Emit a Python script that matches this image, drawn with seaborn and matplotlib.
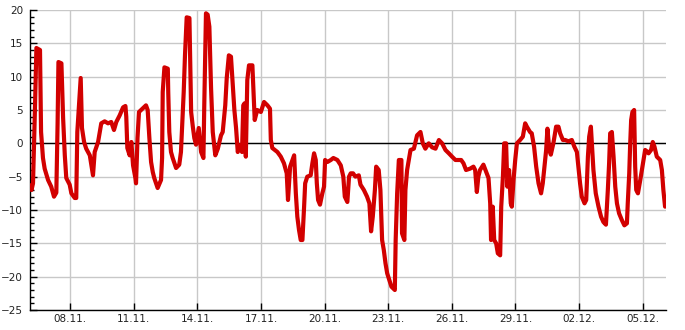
import matplotlib
matplotlib.use("Agg")
import matplotlib.pyplot as plt
import matplotlib.dates as mdates
from matplotlib.ticker import MultipleLocator
import numpy as np
import pandas as pd
import seaborn as sns

# ---- data ----
start_date = "2012-11-06"
# time in days since start_date 00:00
days = [
    0.10, 0.17, 0.24, 0.33, 0.40, 0.57, 0.62, 0.71, 0.79, 0.95, 1.10, 1.23, 1.34, 1.40, 1.44,
    1.58, 1.66, 1.74, 1.81, 1.97, 2.05, 2.21, 2.28, 2.33, 2.49, 2.55, 2.65, 2.75, 2.92, 3.07,
    3.15, 3.31, 3.39, 3.46, 3.62, 3.78, 3.93, 4.06, 4.17, 4.33, 4.49, 4.60, 4.64, 4.69, 4.80,
    4.88, 4.96, 5.07, 5.10, 5.17, 5.24, 5.57, 5.65, 5.73, 5.81, 5.89, 5.96, 6.12, 6.28, 6.33,
    6.36, 6.44, 6.60, 6.62, 6.67, 6.75, 6.83, 6.99, 7.14, 7.22, 7.35, 7.41, 7.49, 7.62, 7.65,
    7.70, 7.78, 7.85, 7.93, 8.06, 8.17, 8.28, 8.32, 8.40, 8.48, 8.56, 8.64, 8.72, 8.84, 8.96,
    9.11, 9.19, 9.31, 9.38, 9.48, 9.58, 9.66, 9.74, 9.82, 9.90, 10.01, 10.10, 10.16, 10.22, 10.28,
    10.35, 10.43, 10.59, 10.64, 10.70, 10.82, 10.99, 11.14, 11.30, 11.42, 11.46, 11.53, 11.77, 11.93, 12.08,
    12.21, 12.27, 12.37, 12.48, 12.56, 12.64, 12.71, 12.79, 12.87, 12.95, 13.03, 13.08, 13.18, 13.34, 13.42,
    13.50, 13.58, 13.63, 13.69, 13.78, 13.89, 13.97, 14.02, 14.13, 14.29, 14.41, 14.60, 14.76, 14.88, 14.95,
    15.07, 15.15, 15.23, 15.34, 15.45, 15.61, 15.69, 15.85, 16.00, 16.11, 16.19, 16.27, 16.37, 16.43, 16.55,
    16.63, 16.71, 16.79, 16.87, 16.95, 17.05, 17.15, 17.31, 17.35, 17.42, 17.50, 17.62, 17.65, 17.76, 17.81,
    17.89, 17.97, 18.05, 18.21, 18.36, 18.52, 18.63, 18.75, 18.91, 19.07, 19.23, 19.39, 19.54, 19.70, 19.86,
    20.01, 20.17, 20.33, 20.44, 20.55, 20.67, 20.86, 21.02, 21.10, 21.18, 21.25, 21.33, 21.49, 21.62, 21.73,
    21.81, 21.85, 21.93, 22.00, 22.09, 22.17, 22.28, 22.33, 22.41, 22.47, 22.56, 22.62, 22.70, 22.78, 22.83,
    22.91, 22.99, 23.07, 23.22, 23.35, 23.46, 23.54, 23.69, 23.77, 23.88, 23.98, 24.09, 24.21, 24.29, 24.37,
    24.45, 24.51, 24.60, 24.67, 24.79, 24.92, 25.03, 25.11, 25.24, 25.35, 25.50, 25.66, 25.78, 25.90, 25.97,
    26.05, 26.13, 26.26, 26.34, 26.42, 26.48, 26.56, 26.61, 26.68, 26.79, 26.92, 27.04, 27.15, 27.27, 27.36,
    27.42, 27.47, 27.55, 27.63, 27.71, 27.79, 27.89, 28.02, 28.14, 28.26, 28.30, 28.37, 28.41, 28.46, 28.52,
    28.60, 28.65, 28.70, 28.78, 28.89, 28.99, 29.12, 29.20, 29.28, 29.40, 29.48, 29.56, 29.67, 29.83, 29.91,
    29.98, 30.06,
]
temps = [
    -6.3, -7.0, -6.0, 5.0, 14.3, 14.0, 1.7, -2.2, -3.8, -5.5, -6.5, -8.0, -7.4, 3.0, 12.2,
    12.0, 3.8, -1.8, -5.2, -6.2, -7.5, -8.2, -8.2, 1.7, 9.8, 2.3, 0.2, -0.8, -1.8, -4.8,
    -1.3, 0.2, 1.7, 3.0, 3.3, 3.0, 3.2, 2.0, 3.2, 4.2, 5.4, 5.6, 4.0, -0.7, -1.8,
    0.2, -3.3, -5.2, -6.0, 0.8, 4.7, 5.7, 5.0, 0.8, -2.8, -4.3, -5.2, -6.7, -5.5, -2.2,
    7.7, 11.4, 11.2, 7.7, 1.7, -1.3, -2.2, -3.7, -3.2, -1.3, 7.7, 13.2, 18.9, 18.8, 13.2,
    4.7, 2.5, 0.8, -0.2, 2.3, -1.3, -2.2, 5.7, 19.5, 19.3, 17.5, 8.3, 1.7, -1.8, -0.8,
    1.2, 1.7, 5.7, 9.8, 13.2, 13.0, 9.0, 5.0, 2.3, -1.3, -0.3, -1.3, 5.7, 6.0, -2.0,
    9.5, 11.7, 11.7, 8.0, 3.5, 5.0, 4.7, 6.2, 5.7, 5.2, 0.5, -0.7, -1.3, -2.0, -3.0,
    -4.5, -8.5, -3.5, -2.5, -1.8, -7.5, -11.0, -13.0, -14.5, -14.5, -9.5, -6.0, -5.0, -4.8, -3.0,
    -1.5, -2.5, -6.0, -8.5, -9.2, -7.5, -6.5, -2.5, -2.8, -2.5, -2.2, -2.5, -3.3, -5.0, -8.0,
    -8.8, -5.0, -4.5, -4.5, -5.0, -4.8, -6.2, -7.0, -8.0, -9.0, -13.2, -11.0, -7.0, -3.5, -4.0,
    -7.0, -14.5, -16.0, -18.0, -19.5, -20.5, -21.5, -22.0, -14.5, -7.5, -2.5, -2.5, -13.5, -14.5, -7.0,
    -4.0, -2.5, -1.0, -0.8, 1.2, 1.7, 0.0, -0.8, 0.0, -0.6, -0.8, 0.5, 0.0, -1.0, -1.5,
    -2.0, -2.5, -2.5, -2.5, -3.0, -4.0, -3.8, -3.5, -4.0, -7.3, -5.0, -4.0, -3.2, -4.3, -5.2,
    -9.0, -14.5, -9.5, -14.5, -15.0, -16.5, -16.8, -9.5, -5.0, 0.0, 0.0, -6.5, -4.0, -9.0, -9.5,
    -5.5, -2.5, 0.0, 0.5, 1.0, 3.0, 2.5, 1.7, 1.5, -0.5, -3.5, -6.0, -7.5, -6.0, -3.5,
    -1.0, 2.2, -1.0, -1.7, 0.0, 2.5, 2.5, 1.5, 0.5, 0.5, 0.3, 0.5, -0.5, -1.3, -3.5,
    -6.0, -8.0, -9.0, -8.5, -2.0, 1.0, 2.5, -0.3, -4.0, -7.5, -9.5, -11.0, -11.8, -12.2, -7.0,
    -3.0, 1.5, 1.7, -2.0, -6.5, -9.0, -10.5, -11.5, -12.3, -12.0, -9.0, -4.5, -0.5, 3.5, 4.7,
    5.0, -3.5, -7.0, -7.5, -5.5, -3.5, -1.0, -1.2, -1.5, -1.0, 0.2, -0.5, -2.0, -2.5, -4.0,
    -7.0, -9.5,
]
tick_dates = pd.date_range("2012-11-08", "2012-12-05", freq="3D")
y_min, y_max = -25, 20

# ---- build frame ----
t0 = pd.Timestamp(start_date)
df = pd.DataFrame({
    "time": t0 + pd.to_timedelta(np.array(days), unit="D"),
    "temp": temps,
})

sns.set_style("white")
plt.rcParams["font.family"] = ["DejaVu Sans"]

fig = plt.figure(figsize=(6.85, 3.30), dpi=100)
ax = fig.add_axes([30 / 685, 20 / 330, 635.7 / 685, 300 / 330])

ax.set_axisbelow(True)
ax.grid(True, which="major", color="#c8c8c8", linewidth=1.0)
ax.axhline(0, color="black", linewidth=1.0, zorder=1.5)

sns.lineplot(data=df, x="time", y="temp", ax=ax, color="#d20000",
             linewidth=3.0, estimator=None, sort=False, zorder=3)

ax.set_ylim(y_min, y_max)
ax.set_xlim(t0 + pd.Timedelta(days=0.098), t0 + pd.Timedelta(days=30.09))
ax.yaxis.set_major_locator(MultipleLocator(5))
ax.yaxis.set_minor_locator(MultipleLocator(1))
ax.set_xticks(tick_dates)
ax.xaxis.set_major_formatter(mdates.DateFormatter("%d.%m."))
ax.xaxis.set_minor_locator(matplotlib.ticker.NullLocator())

ax.set_xlabel("")
ax.set_ylabel("")
for s in ["top", "right"]:
    ax.spines[s].set_visible(False)
for s in ["left", "bottom"]:
    ax.spines[s].set_color("black")
    ax.spines[s].set_linewidth(1.0)

ax.tick_params(axis="y", which="major", direction="in", length=5, width=1,
               color="black", labelcolor="#222222", labelsize=7.5, pad=5, left=True)
ax.tick_params(axis="y", which="minor", direction="in", length=3, width=1,
               color="black", left=True)
ax.tick_params(axis="x", which="major", direction="in", length=5, width=1,
               color="black", labelcolor="#222222", labelsize=7.5, pad=3, bottom=True)

fig.savefig("out.png", dpi=100)
